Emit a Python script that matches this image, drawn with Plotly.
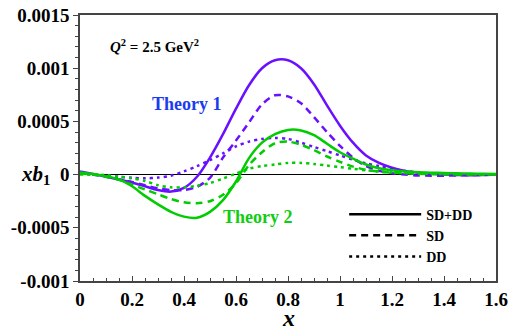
import plotly.graph_objects as go

x_vals = [0.0, 0.05, 0.1, 0.15, 0.2, 0.25, 0.3, 0.35, 0.4, 0.45, 0.5, 0.55, 0.6, 0.65, 0.7, 0.75,
          0.8, 0.85, 0.9, 0.95, 1.0, 1.05, 1.1, 1.15, 1.2, 1.25, 1.3, 1.35, 1.4, 1.45, 1.5, 1.55, 1.6]

# Theory 1 (values in units of 1e-3)
t1_sum = [0.03, 0.005, -0.02, -0.045, -0.075, -0.11, -0.145, -0.16, -0.125, -0.02, 0.16, 0.38, 0.62,
          0.84, 1.0, 1.075, 1.075, 1.0, 0.85, 0.65, 0.46, 0.30, 0.18, 0.11, 0.065, 0.035, 0.018, 0.007,
          0.0, -0.004, -0.005, -0.003, 0.0]
t1_sd = [0.02, 0.0, -0.02, -0.045, -0.07, -0.10, -0.13, -0.145, -0.145, -0.115, -0.03, 0.16, 0.32,
         0.49, 0.66, 0.745, 0.735, 0.67, 0.54, 0.40, 0.27, 0.16, 0.08, 0.035, 0.012, 0.0, -0.008,
         -0.01, -0.01, -0.008, -0.005, -0.003, 0.0]
t1_dd = [0.01, 0.0, -0.01, -0.02, -0.03, -0.035, -0.028, -0.01, 0.03, 0.08, 0.135, 0.20, 0.265,
         0.31, 0.335, 0.345, 0.335, 0.30, 0.26, 0.22, 0.18, 0.14, 0.105, 0.08, 0.055, 0.035, 0.02,
         0.012, 0.006, 0.003, 0.0, 0.0, 0.0]

# Theory 2 (values in units of 1e-3)
t2_sum = [0.02, 0.005, -0.015, -0.045, -0.11, -0.20, -0.28, -0.35, -0.395, -0.405, -0.35, -0.24,
          -0.065, 0.155, 0.30, 0.38, 0.42, 0.415, 0.37, 0.29, 0.21, 0.15, 0.095, 0.06, 0.04, 0.028,
          0.022, 0.018, 0.015, 0.012, 0.01, 0.007, 0.005]
t2_sd = [0.01, 0.0, -0.02, -0.05, -0.095, -0.14, -0.185, -0.23, -0.26, -0.27, -0.25, -0.19, -0.08,
         0.09, 0.21, 0.295, 0.31, 0.28, 0.23, 0.17, 0.12, 0.075, 0.045, 0.028, 0.018, 0.012, 0.008,
         0.005, 0.003, 0.002, 0.001, 0.0, 0.0]
t2_dd = [0.0, 0.0, -0.005, -0.02, -0.035, -0.06, -0.10, -0.12, -0.12, -0.105, -0.08, -0.037, 0.01,
         0.055, 0.08, 0.095, 0.11, 0.11, 0.10, 0.085, 0.07, 0.055, 0.04, 0.03, 0.02, 0.014, 0.01,
         0.007, 0.005, 0.003, 0.002, 0.001, 0.0]

scale = 1e-3
purple = "#6a10ff"
green = "#00cc00"
dash_sd = "7px,5px"
dash_dd = "3px,4px"

x_ticks = [0, 0.2, 0.4, 0.6, 0.8, 1, 1.2, 1.4, 1.6]
x_ticklabels = ["0", "0.2", "0.4", "0.6", "0.8", "1", "1.2", "1.4", "1.6"]
y_ticks = [-0.001, -0.0005, 0, 0.0005, 0.001, 0.0015]
y_ticklabels = ["-0.001", "-0.0005", "0", "0.0005", "0.001", "0.0015"]

fig = go.Figure()

series = [
    (t1_sum, purple, "solid"), (t1_sd, purple, dash_sd), (t1_dd, purple, dash_dd),
    (t2_sum, green, "solid"), (t2_sd, green, dash_sd), (t2_dd, green, dash_dd),
]
for vals, col, dsh in series:
    fig.add_trace(go.Scatter(
        x=x_vals, y=[v * scale for v in vals], mode="lines",
        line=dict(color=col, width=2.5, dash=dsh, shape="spline", smoothing=0.8),
        showlegend=False, hoverinfo="skip"))

# legend entries (black samples)
for name, dsh in [("SD+DD", "solid"), ("SD", dash_sd), ("DD", dash_dd)]:
    fig.add_trace(go.Scatter(x=[None], y=[None], mode="lines", name=name,
                             line=dict(color="black", width=2.5, dash=dsh)))

serif = "Liberation Serif"

fig.update_layout(
    width=508, height=333,
    margin=dict(l=80, r=12, t=15, b=52),
    paper_bgcolor="white", plot_bgcolor="white",
    font=dict(family=serif, color="black"),
    showlegend=True,
    legend=dict(x=0.635, y=0.31, xanchor="left", yanchor="top",
                bgcolor="rgba(0,0,0,0)", borderwidth=0, itemwidth=72,
                font=dict(family=serif, size=14, color="black", weight="bold"),
                tracegroupgap=0, itemclick=False),
    xaxis=dict(range=[0, 1.6], tickvals=x_ticks, ticktext=x_ticklabels, automargin=False,
               ticks="inside", ticklen=5, tickwidth=1.2, tickcolor="#444",
               minor=dict(dtick=0.05, ticks="inside", ticklen=3, tickcolor="#444"),
               showline=True, linecolor="#444", linewidth=1.5, mirror=True,
               showgrid=False, zeroline=False,
               tickfont=dict(family=serif, size=19, color="black", weight="bold")),
    yaxis=dict(range=[-0.001, 0.0015], tickvals=y_ticks, ticktext=y_ticklabels, automargin=False,
               ticks="outside", ticklen=5, tickwidth=1.2, tickcolor="#444",
               minor=dict(dtick=0.0001, ticks="outside", ticklen=3, tickcolor="#444"),
               showline=True, linecolor="#444", linewidth=1.5, mirror=True,
               showgrid=False, zeroline=True, zerolinecolor="black", zerolinewidth=1.3,
               tickfont=dict(family=serif, size=19, color="black", weight="bold")),
)

# axis titles
fig.add_annotation(x=0.5, y=-0.1955, xref="paper", yref="paper", xanchor="center", yanchor="bottom",
                   text="<b><i>x</i></b>", showarrow=False,
                   font=dict(family=serif, size=24, color="black"))
fig.add_annotation(x=-0.067, y=0.0, xref="paper", yref="y", xanchor="right", yanchor="middle",
                   text="<b><i>xb</i><sub>1</sub></b>", showarrow=False,
                   font=dict(family=serif, size=21, color="black"))

# in-plot labels
fig.add_annotation(x=0.288, y=0.00121, xref="x", yref="y", showarrow=False,
                   text="<b><i>Q</i><sup>2</sup> = 2.5 GeV<sup>2</sup></b>",
                   font=dict(family=serif, size=15, color="black"))
fig.add_annotation(x=0.413, y=0.000663, xref="x", yref="y", showarrow=False,
                   text="<b>Theory 1</b>", font=dict(family=serif, size=18, color="#1a3cf0"))
fig.add_annotation(x=0.683, y=-0.000397, xref="x", yref="y", showarrow=False,
                   text="<b>Theory 2</b>", font=dict(family=serif, size=18, color="#11cc11"))

fig.write_html("out.html")
